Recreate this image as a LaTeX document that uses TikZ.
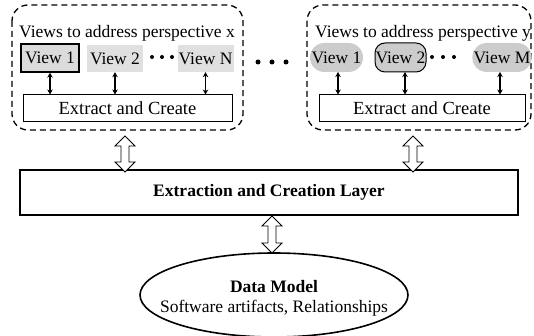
\documentclass[tikz,border=0pt]{standalone}
\usepackage{fontspec}
\setmainfont{Liberation Serif}
\usetikzlibrary{arrows.meta,shapes.geometric,shapes.misc}
\tikzset{
  txt/.style={font=\fontsize{17.5}{19}\selectfont, inner sep=0pt},
  group/.style={draw, dashed, dash pattern=on 6pt off 4pt, line width=1.3pt, rounded corners=16pt},
  viewa/.style={txt, fill=gray!28, draw=black, line width=1.3pt, minimum width=58pt, minimum height=28pt},
  viewb/.style={txt, fill=gray!24, minimum width=56pt, minimum height=27pt},
  viewr/.style={txt, fill=gray!40, rounded rectangle, minimum width=53pt, minimum height=29pt},
  viewo/.style={txt, fill=gray!40, draw=black, line width=1pt, rounded corners=10pt, minimum width=51pt, minimum height=29pt},
  ecbox/.style={txt, draw, line width=1pt, fill=white, font=\fontsize{18.5}{20}\selectfont},
  layer/.style={txt, draw, line width=2pt, font=\fontsize{17.5}{19}\selectfont\bfseries},
  small/.style={{Stealth[length=5pt,width=5.5pt]}-{Stealth[length=5pt,width=5.5pt]}, line width=1.4pt},
  hollow/.style={draw, line width=0.8pt, fill=white},
  dotc/.style={fill=black, circle, inner sep=0pt, minimum size=4pt},
  dotm/.style={fill=black, circle, inner sep=0pt, minimum size=5pt}
}
\newcommand{\openarrow}[3]{% x, ytop, ybottom
  \draw[hollow] (#1,#2) -- (#1+10,#2+10) -- (#1+4,#2+10) -- (#1+4,#3-10) -- (#1+10,#3-10)
    -- (#1,#3) -- (#1-10,#3-10) -- (#1-4,#3-10) -- (#1-4,#2+10) -- (#1-10,#2+10) -- cycle;}
\begin{document}
\begin{tikzpicture}[x=1pt,y=-1pt]
\useasboundingbox (0,0) rectangle (534,336);
% left group
\draw[group] (12,5) rectangle (243,130);
\node[txt, anchor=west] (tx) at (19,33) {Views to address perspective x};
\node[viewa] (l1) at (50,58) {View 1};
\node[viewb] (l2) at (115,58.5) {View 2};
\node[viewb] (lN) at (205.5,58.5) {View N};
\node[dotc] (ld1) at (152,57) {};
\node[dotc] (ld2) at (162,57) {};
\node[dotc] (ld3) at (172,57) {};
\node[ecbox, minimum width=209pt, minimum height=27pt] (lec) at (127.5,108.5) {Extract and Create};
\draw[small] (l1.south) -- (l1.south |- lec.north);
\draw[small] (l2.south) -- (l2.south |- lec.north);
\draw[small] (lN.south) -- (lN.south |- lec.north);
% middle dots
\node[dotm] (md1) at (258,62) {};
\node[dotm] (md2) at (272,62) {};
\node[dotm] (md3) at (286,62) {};
% right group
\draw[group] (307,5) rectangle (531,130);
\node[txt, anchor=west] (ty) at (315,33) {Views to address perspective y};
\node[viewr] (r1) at (336.5,57.5) {View 1};
\node[viewo] (r2) at (400.5,57.5) {View 2};
\node[viewr] (rM) at (502,57.5) {View M};
\node[dotc] (rd1) at (432,57) {};
\node[dotc] (rd2) at (443,57) {};
\node[dotc] (rd3) at (454,57) {};
\node[ecbox, minimum width=206pt, minimum height=27pt] (rec) at (422,108.5) {Extract and Create};
\coordinate (r1b) at (338,72);
\coordinate (r2b) at (405,72);
\coordinate (rMb) at (500,72);
\draw[small] (r1b) -- (r1b |- rec.north);
\draw[small] (r2b) -- (r2b |- rec.north);
\draw[small] (rMb) -- (rMb |- rec.north);
% layer
\node[layer, minimum width=498pt, minimum height=45pt] (lay) at (269,192.5) {Extraction and Creation Layer};
\openarrow{125}{136}{172}
\openarrow{413}{136}{172}
\openarrow{272}{216}{253}
% data model
\node[ellipse, draw, line width=1.6pt, minimum width=268pt, minimum height=84pt, inner sep=0pt] (dm) at (274,295) {};
\node[txt, font=\fontsize{17.5}{19}\selectfont\bfseries] (dmt) at (274,287) {Data Model};
\node[txt] (dms) at (274,308) {Software artifacts, Relationships};
\end{tikzpicture}
\end{document}
